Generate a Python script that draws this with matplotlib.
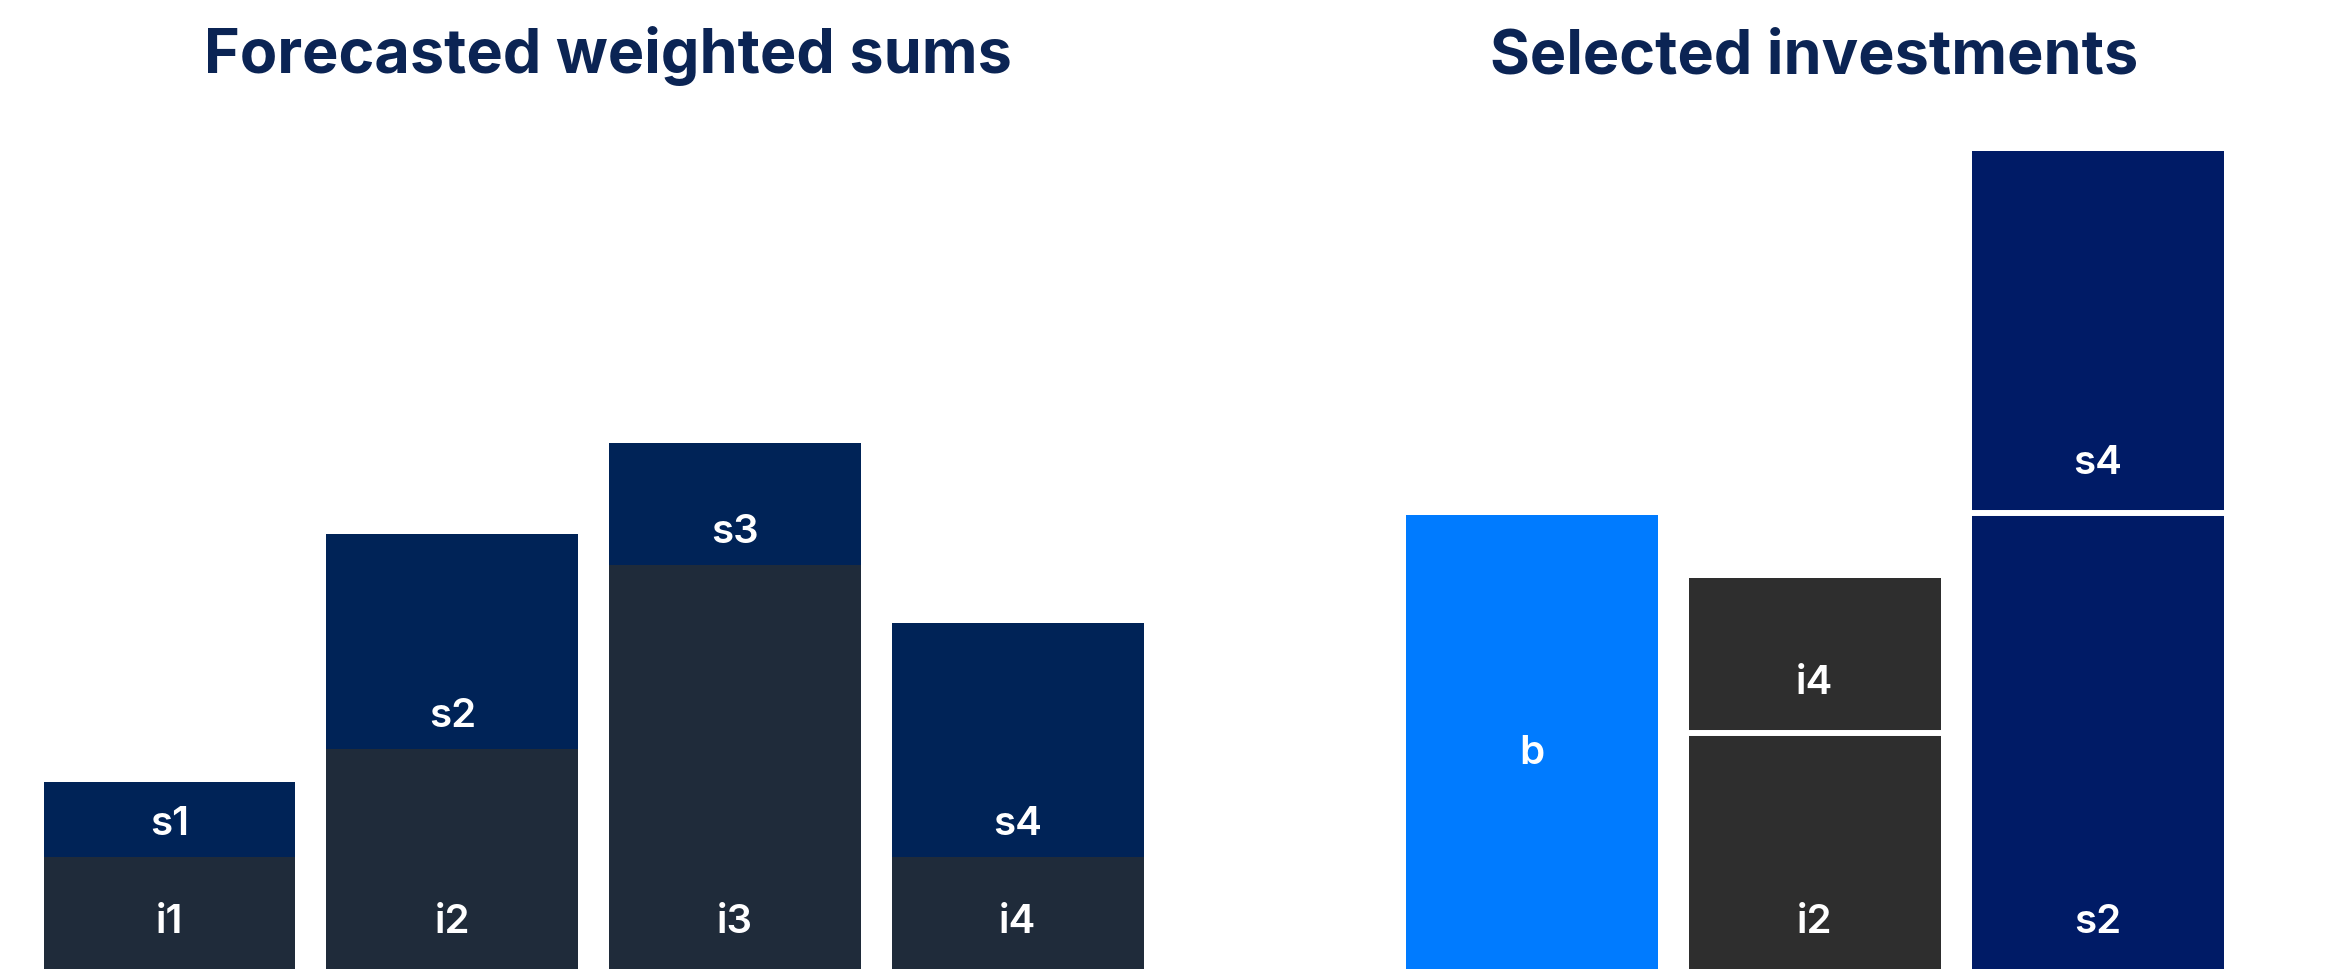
import matplotlib.pyplot as plt

plt.rcParams['font.family'] = ['Inter', 'DejaVu Sans']

# colours
Navy = '#002357'
Slate = '#1f2b3a'
Bright = '#007bff'
Charcoal = '#2e2e2e'
Indigo = '#001b66'
TitleColor = '#0b2454'

# left chart: forecasted weighted sums, i part + s part per bar
fc_i_labels = ['i1', 'i2', 'i3', 'i4']
fc_s_labels = ['s1', 's2', 's3', 's4']
fc_i = [112, 220, 404, 112]
fc_s = [75, 215, 122, 234]

# right chart: selected investments
sel_b_label = 'b'
sel_b = 454
sel_i_labels = ['i2', 'i4']
sel_i = [236, 155]
sel_s_labels = ['s2', 's4']
sel_s = [456, 362]

fig = plt.figure(figsize=(23.25, 9.69), dpi=100)
ax1 = fig.add_axes([0.01209, 0, 0.48654, 1])
ax2 = fig.add_axes([0.59811, 0, 0.36490, 1])

for ax, n in [(ax1, 4), (ax2, 3)]:
    ax.set_xlim(-0.5, n - 0.5)
    ax.set_ylim(0, 969)
    ax.axis('off')

w = 0.891
lab = dict(color='white', fontsize=29, fontweight='semibold',
           ha='center', va='baseline', textcoords='offset points')

# left: stacked bars, no gap between parts
x1 = list(range(len(fc_i)))
ax1.bar(x1, fc_i, width=w, color=Slate, linewidth=0)
ax1.bar(x1, fc_s, width=w, bottom=fc_i, color=Navy, linewidth=0)
for x, i, il, sl in zip(x1, fc_i, fc_i_labels, fc_s_labels):
    ax1.annotate(il, (x, 0), xytext=(0, 36 * 0.72), **lab)
    ax1.annotate(sl, (x, i), xytext=(0, 22 * 0.72), **lab)

# right: bars, stacked parts split by a white line
ax2.bar(0, sel_b, width=w, color=Bright, linewidth=0)
ax2.bar(1, sel_i[0], width=w, color=Charcoal, linewidth=0)
ax2.bar(1, sel_i[1], width=w, bottom=sel_i[0], color=Charcoal, linewidth=0)
ax2.bar(2, sel_s[0], width=w, color=Indigo, linewidth=0)
ax2.bar(2, sel_s[1], width=w, bottom=sel_s[0], color=Indigo, linewidth=0)
ax2.hlines([sel_i[0], sel_s[0]], [1 - w / 2, 2 - w / 2], [1 + w / 2, 2 + w / 2],
           colors='white', linewidth=4.3)

ax2.annotate(sel_b_label, (0, sel_b / 2), xytext=(0, -12 * 0.72),
             **dict(lab, va='center'))
for x, vals, names in [(1, sel_i, sel_i_labels), (2, sel_s, sel_s_labels)]:
    ax2.annotate(names[0], (x, 0), xytext=(0, 36 * 0.72), **lab)
    ax2.annotate(names[1], (x, vals[0]), xytext=(0, 39 * 0.72), **lab)

fig.text(608 / 2325, 1 - 73 / 969, 'Forecasted weighted sums', ha='center',
         va='baseline', fontsize=44, fontweight='bold', color=TitleColor)
fig.text(1814 / 2325, 1 - 73 / 969, 'Selected investments', ha='center',
         va='baseline', fontsize=44, fontweight='bold', color=TitleColor)

fig.savefig('out.png', dpi=100)
